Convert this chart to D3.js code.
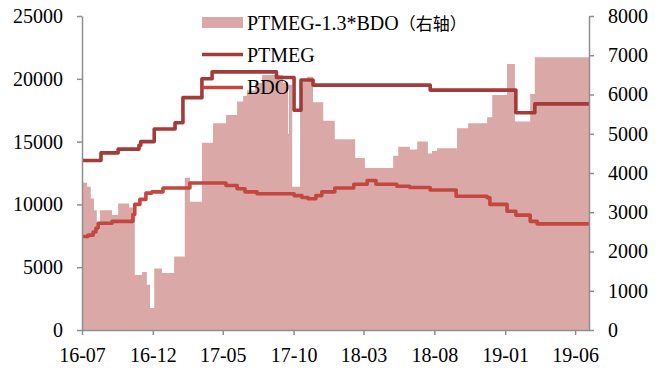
<!DOCTYPE html>
<html><head><meta charset="utf-8">
<script src="https://cdn.jsdelivr.net/npm/d3@7"></script>
<style>
html,body{margin:0;padding:0;background:#fff;}
svg{display:block;}
</style></head>
<body>
<svg id="chart" width="662" height="370"></svg>
<script>
// ---- data ----
const xTickLabels = ["16-07","16-12","17-05","17-10","18-03","18-08","19-01","19-06"];
const leftTicks = [0,5000,10000,15000,20000,25000];
const rightTicks = [0,1000,2000,3000,4000,5000,6000,7000,8000];
const seriesNames = ["PTMEG-1.3*BDO","PTMEG","BDO"];

// spread PTMEG-1.3*BDO (right axis)
const spreadDates = ["2016-07-01","2016-07-12","2016-07-20","2016-07-27","2016-08-02","2016-08-09","2016-09-04","2016-09-17","2016-10-11","2016-10-19","2016-10-23","2016-11-08","2016-11-18","2016-11-25","2016-12-04","2016-12-21","2017-01-16","2017-02-08","2017-02-19","2017-03-17","2017-04-10","2017-05-08","2017-06-01","2017-06-14","2017-06-22","2017-07-10","2017-07-25","2017-09-08","2017-09-19","2017-09-21","2017-09-28","2017-10-15","2017-10-21","2017-10-30","2017-11-12","2017-12-04","2017-12-29","2018-02-11","2018-03-04","2018-05-04","2018-05-15","2018-06-09","2018-06-25","2018-07-18","2018-07-27","2018-08-07","2018-09-19","2018-10-13","2018-11-23","2018-12-04","2019-01-05","2019-01-22","2019-02-24","2019-03-06","2019-07-01"];
const spreadValues = [3750,3650,3350,3050,2550,3050,2930,3220,3120,2950,1400,1480,1150,560,1570,1450,1870,3880,3270,4770,5270,5480,5820,5960,6100,6290,6500,6300,5000,6250,3650,6150,6330,6450,5800,5330,4860,4380,4130,4440,4670,4600,4800,4500,4560,4630,5140,5270,5420,5990,6780,5310,6010,6950,6950];

// PTMEG (left axis)
const ptmegDates = ["2016-07-01","2016-08-11","2016-09-17","2016-11-01","2016-11-05","2016-12-04","2017-01-18","2017-02-04","2017-03-17","2017-04-08","2017-08-25","2017-10-02","2017-10-17","2017-11-12","2018-07-23","2019-01-24","2019-03-06","2019-07-01"];
const ptmegValues = [13500,14100,14400,14700,15000,16000,16500,18500,20000,20550,20100,17500,19900,19500,19100,17300,18000,18000];

// BDO (left axis)
const bdoDates = ["2016-07-01","2016-07-14","2016-07-25","2016-07-31","2016-08-05","2016-09-04","2016-10-19","2016-10-23","2016-11-03","2016-11-16","2016-11-29","2016-12-23","2017-02-19","2017-05-08","2017-06-01","2017-06-18","2017-07-14","2017-10-02","2017-10-19","2017-11-01","2017-11-18","2017-12-01","2017-12-29","2018-02-08","2018-03-09","2018-03-28","2018-05-12","2018-06-09","2018-07-23","2018-09-17","2018-11-23","2018-11-29","2019-01-05","2019-01-24","2019-02-24","2019-03-11","2019-07-01"];
const bdoValues = [7450,7550,7800,8100,8500,8650,9200,10000,10400,10900,11000,11300,11700,11500,11250,11000,10850,10700,10550,10450,10700,11000,11300,11600,11900,11600,11450,11350,11150,10650,10530,10000,9450,9150,8650,8450,8450];

// ---- drawing ----
const parse = d3.timeParse("%Y-%m-%d");
const parseTick = d3.timeParse("%y-%m");
const svg = d3.select("#chart");
const L = 82, R = 589, T = 16, B = 330;

const x = d3.scaleTime().domain([parse("2016-07-01"), parse("2019-07-01")]).range([L, R]);
const yL = d3.scaleLinear().domain([0, 25000]).range([B, T]);
const yR = d3.scaleLinear().domain([0, 8000]).range([B, T]);

const spread = spreadDates.map((d,i)=>({d:parse(d), v:spreadValues[i]}));
const ptmeg = ptmegDates.map((d,i)=>({d:parse(d), v:ptmegValues[i]}));
const bdo = bdoDates.map((d,i)=>({d:parse(d), v:bdoValues[i]}));

const cArea = "#d9a8a7", cPT = "#a23b39", cBDO = "#c3473f";

svg.append("path").datum(spread)
  .attr("d", d3.area().curve(d3.curveStepAfter).x(d=>x(d.d)).y0(yR(0)).y1(d=>yR(d.v)))
  .attr("fill", cArea);

svg.append("path").datum(ptmeg)
  .attr("d", d3.line().curve(d3.curveStepAfter).x(d=>x(d.d)).y(d=>yL(d.v)))
  .attr("fill","none").attr("stroke",cPT).attr("stroke-width",3.6).attr("stroke-linejoin","round");

svg.append("path").datum(bdo)
  .attr("d", d3.line().curve(d3.curveStepAfter).x(d=>x(d.d)).y(d=>yL(d.v)))
  .attr("fill","none").attr("stroke",cBDO).attr("stroke-width",3.6).attr("stroke-linejoin","round");

// axes
const font = "'Liberation Serif','Times New Roman',serif";
function styleAxis(g){
  g.selectAll(".domain").attr("stroke","#8f8f8f").attr("stroke-width",1.5);
  g.selectAll(".tick line").attr("stroke","#8f8f8f").attr("stroke-width",1.5);
  g.selectAll("text").attr("fill","#000").style("font-family",font).style("font-size","20px");
}
const gL = svg.append("g").attr("transform",`translate(${L},0)`)
  .call(d3.axisLeft(yL).tickValues(leftTicks).tickFormat(d3.format("d")).tickSize(5).tickSizeOuter(0).tickPadding(14));
styleAxis(gL);
const gR = svg.append("g").attr("transform",`translate(${R},0)`)
  .call(d3.axisRight(yR).tickValues(rightTicks).tickFormat(d3.format("d")).tickSize(5).tickSizeOuter(0).tickPadding(14));
styleAxis(gR);
const gB = svg.append("g").attr("transform",`translate(0,${B})`)
  .call(d3.axisBottom(x).tickValues(xTickLabels.map(parseTick)).tickFormat(d3.timeFormat("%y-%m")).tickSize(5).tickSizeOuter(0).tickPadding(13));
styleAxis(gB);

// legend
const lg = svg.append("g").attr("transform","translate(202,0)");
lg.append("rect").attr("x",0).attr("y",17).attr("width",41).attr("height",11).attr("fill",cArea);
const t0 = lg.append("text").attr("x",45).attr("y",30).style("font-family",font).style("font-size","20px").attr("fill","#000");
t0.append("tspan").text(seriesNames[0]);
t0.append("tspan").style("font-family","'Noto Sans CJK SC',sans-serif").style("font-size","17px").text("（右轴）");
lg.append("line").attr("x1",0).attr("x2",41).attr("y1",54.5).attr("y2",54.5).attr("stroke",cPT).attr("stroke-width",3.6);
lg.append("text").attr("x",45).attr("y",62).style("font-family",font).style("font-size","20px").attr("fill","#000").text(seriesNames[1]);
lg.append("line").attr("x1",0).attr("x2",41).attr("y1",87.5).attr("y2",87.5).attr("stroke",cBDO).attr("stroke-width",3.6);
lg.append("text").attr("x",45).attr("y",94).style("font-family",font).style("font-size","20px").attr("fill","#000").text(seriesNames[2]);
</script>
</body></html>
